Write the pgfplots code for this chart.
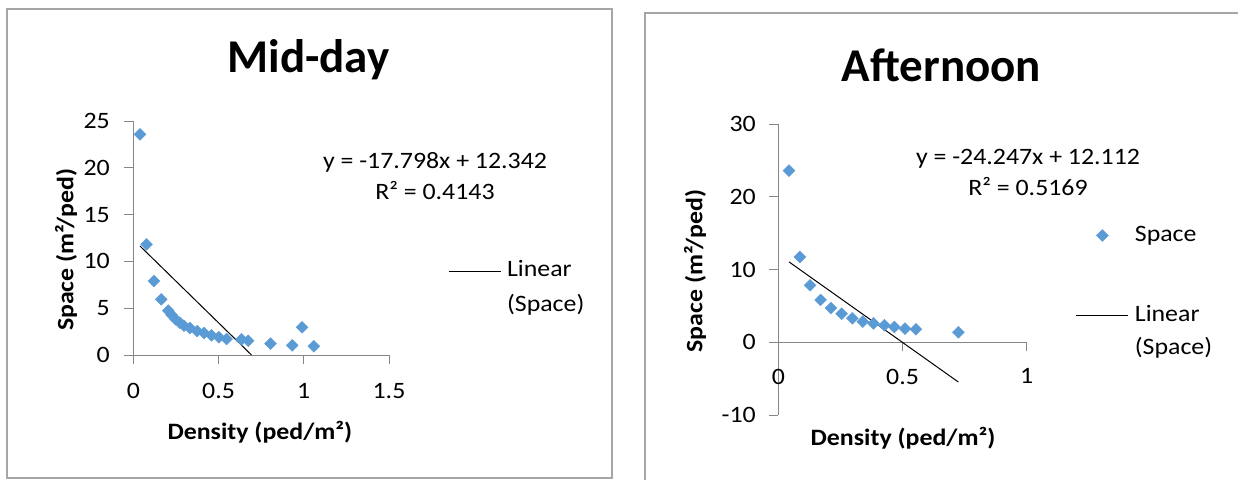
\documentclass[border=0pt]{standalone}
\usepackage{pgfplots}
\usepackage{pgfplotstable}
\pgfplotsset{compat=1.18}
\usepackage{fontspec}
\setmainfont{Carlito}[FakeStretch=1.1]
\newfontfamily\titlefont{Carlito}
\definecolor{mblue}{HTML}{5B9BD5}
\definecolor{axgray}{HTML}{868686}
\definecolor{framegray}{HTML}{A6A6A6}

\pgfplotstableread{
x y
0.039 23.57
0.078 11.82
0.121 7.90
0.164 5.95
0.205 4.74
0.225 4.27
0.248 3.81
0.273 3.45
0.297 3.13
0.332 2.88
0.375 2.56
0.416 2.35
0.459 2.10
0.502 1.89
0.547 1.71
0.635 1.67
0.674 1.53
0.805 1.21
0.932 1.03
0.990 2.96
1.059 0.93
}\midday

\pgfplotstableread{
x y
0.043 23.62
0.087 11.74
0.128 7.84
0.170 5.83
0.212 4.72
0.255 3.94
0.298 3.30
0.340 2.84
0.383 2.61
0.427 2.34
0.467 2.11
0.510 1.88
0.554 1.79
0.725 1.38
}\afternoon

\pgfplotsset{
  excel/.style={
    scale only axis,
    clip=false,
    tick align=outside,
    major tick length=9pt,
    axis line style={draw=axgray, line width=1pt},
    every tick/.style={draw=axgray, line width=1pt},
    tick label style={font=\fontsize{23.5}{28}\selectfont},
    label style={font=\bfseries\fontsize{23.5}{28}\selectfont},
    legend style={draw=none, fill=none, inner sep=0pt, outer sep=0pt,
      font=\fontsize{23.5}{28}\selectfont,
      nodes={inner sep=0pt, text height=17pt, text depth=6pt},
      column sep=6pt},
    legend cell align=left,
  },
  dots/.style={only marks, mark=square*, mark size=4.2pt,
    mark options={rotate=45, draw=mblue, fill=mblue},
    legend image code/.code={\draw[mark repeat=2,mark phase=2,##1] plot coordinates {(0pt,0pt)(26pt,0pt)(52pt,0pt)};}},
  trend/.style={black, line width=1pt, no marks,
    legend image code/.code={\draw[black, line width=1pt] (0pt,0pt) -- (52pt,0pt);}},
}

\begin{document}
\begin{tikzpicture}
\useasboundingbox (0pt,0pt) rectangle (1238pt,479pt);
\draw[framegray, line width=1.3pt] (7pt,470pt) rectangle (612pt,1pt);
\draw[framegray, line width=1.3pt] (1250pt,466pt) -- (645pt,466pt) -- (645pt,-10pt);

\node[font=\titlefont\bfseries\fontsize{47}{56}\selectfont] at (308.5pt,419pt) {Mid-day};
\node[font=\titlefont\bfseries\fontsize{47}{56}\selectfont] at (941.5pt,414pt) {Afternoon};

\node[align=center, font=\fontsize{23.5}{31}\selectfont] at (435pt,303pt) {y = -17.798x + 12.342\\R² = 0.4143};
\node[align=center, font=\fontsize{23.5}{31}\selectfont] at (1028pt,307pt) {y = -24.247x + 12.112\\R² = 0.5169};

\begin{axis}[excel,
  at={(133.3pt,124pt)}, anchor=south west,
  width=255.7pt, height=234pt,
  axis lines*=left,
  xmin=0, xmax=1.5, ymin=0, ymax=25,
  xtick={0,0.5,1,1.5}, xticklabels={0,0.5,1,1.5},
  ytick={0,5,10,15,20,25}, yticklabels={0,5,10,15,20,25},
  xticklabel style={yshift=-16pt},
  yticklabel style={xshift=-11pt},
  xlabel={Density (ped/m²)},
  ylabel={Space (m²/ped)},
  xlabel style={at={(axis description cs:0.495,-0.329)}, anchor=center},
  ylabel style={at={(axis description cs:-0.263,0.45)}, anchor=center},
  legend style={at={(axis description cs:1.231,0.406)}, anchor=north west, row sep=12pt},
]
\addplot[dots, forget plot] table[x=x,y=y] {\midday};
\addplot[trend] coordinates {(0.039,11.648) (0.6934,0)};
\addlegendentry{Linear}
\addlegendimage{empty legend}
\addlegendentry{(Space)}
\end{axis}

\begin{axis}[excel,
  at={(778.3pt,64pt)}, anchor=south west,
  width=248.4pt, height=290.7pt,
  axis x line*=middle, axis y line*=left,
  hide obscured x ticks=false, hide obscured y ticks=false,
  xmin=0, xmax=1, ymin=-10, ymax=30,
  xtick={0,0.5,1}, xticklabels={0,0.5,1},
  ytick={-10,0,10,20,30}, yticklabels={-10,0,10,20,30},
  xticklabel style={yshift=-14pt},
  yticklabel style={xshift=-10pt},
  xlabel={Density (ped/m²)},
  ylabel={Space (m²/ped)},
  xlabel style={at={(axis description cs:0.502,-0.079)}, anchor=center},
  ylabel style={at={(axis description cs:-0.335,0.495)}, anchor=center},
  legend style={at={(axis description cs:1.198,0.657)}, anchor=north west, row sep=10pt},
]
\addplot[dots] table[x=x,y=y] {\afternoon};
\addlegendentry{Space}
\addlegendimage{empty legend}
\addlegendentry[text height=37pt, text depth=0pt]{}
\addplot[trend] coordinates {(0.043,11.069) (0.725,-5.467)};
\addlegendentry{Linear}
\addlegendimage{empty legend}
\addlegendentry{(Space)}
\end{axis}
\end{tikzpicture}
\end{document}
